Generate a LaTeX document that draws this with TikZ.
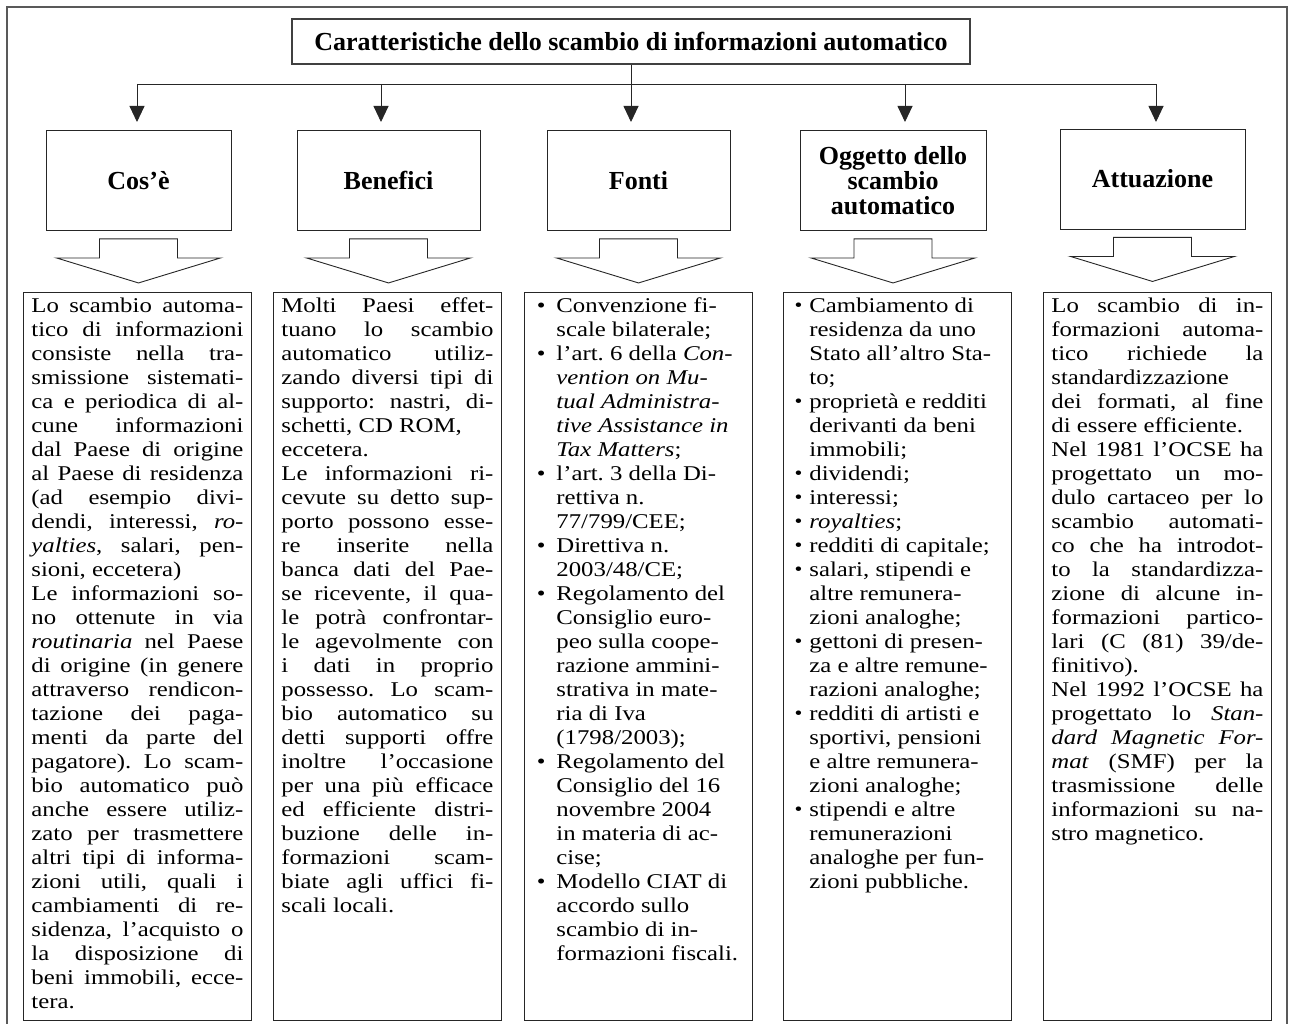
\documentclass[tikz,border=0pt]{standalone}
\usepackage{fontspec}
\setmainfont{Liberation Serif}
\newfontfamily\corpofont{Liberation Serif}[FakeStretch=1.18]
\usetikzlibrary{arrows.meta}

\newcommand{\corpo}[1]{\begin{minipage}[c][718pt][t]{212pt}\corpofont\fontsize{21}{24}\selectfont
  \frenchspacing\tolerance=10000\hbadness=10000 #1\end{minipage}}
\newenvironment{punti}[3]{\list{#3}{\leftmargin=#1\labelsep=#2\labelwidth=\dimexpr#1-#2\relax
  \itemindent=0pt\itemsep=0pt\parsep=0pt\topsep=0pt\partopsep=0pt}\raggedright}{\endlist}

\begin{document}
\begin{tikzpicture}[x=1pt,y=-1pt]
        \tikzstyle{every node}+=[inner sep=0pt]
        \tikzstyle{cornice}=[draw=black!65,line width=1.5pt]
        \tikzstyle{linea}=[draw=black!85,line width=0.9pt]
        \tikzstyle{freccia}=[linea,-{Triangle[width=15pt,length=16pt]}]
        \tikzstyle{titolo}=[draw=black!75,line width=1.1pt,minimum width=678pt,minimum height=45pt,font=\fontsize{26}{24}\selectfont\bfseries]
        \tikzstyle{testata}=[draw=black!85,line width=0.9pt,minimum width=185pt,minimum height=100pt,align=center,font=\fontsize{26}{25}\selectfont\bfseries]
        \tikzstyle{blocco}=[draw=black!85,line width=0.9pt,fill=white]
        \tikzstyle{colonna}=[draw=black!85,line width=0.9pt,anchor=north west,inner xsep=8pt,inner ysep=5pt]
        \useasboundingbox (0,0) rectangle (1289,1024);
        \draw[cornice] (7,1024) -- (7,7) -- (1287,7) -- (1287,1024);
        \node[titolo] (titolo) at (631,41.5) {Caratteristiche dello scambio di informazioni automatico};
        \node[testata] (cose) at (138.5,180.5) {Cos’è};
        \node[testata,minimum width=183pt] (benefici) at (388.5,180.5) {Benefici};
        \node[testata,minimum width=183pt] (fonti) at (638.5,180.5) {Fonti};
        \node[testata,minimum width=186pt] (oggetto) at (893,180.5) {Oggetto dello\\scambio\\automatico};
        \node[testata] (attuazione) at (1152.5,179) {Attuazione};
        \coordinate (snodo) at (631,84);
        \coordinate (p1) at (137,122);
        \coordinate (p2) at (381,122);
        \coordinate (p3) at (631,122);
        \coordinate (p4) at (905,122);
        \coordinate (p5) at (1156,122);
        \draw[linea] (titolo.south) -- (snodo);
        \draw[linea] (p1 |- snodo) -- (p5 |- snodo);
        \foreach \p in {p1,p2,p3,p4,p5}
          \draw[freccia] (\p |- snodo) -- (\p);
        \foreach \h in {cose,benefici,fonti,oggetto,attuazione}
          \draw[blocco,shift={(\h.south)}] (-39,8) -- (39,8) -- (39,27) -- (82,27) -- (0,52) -- (-82,27) -- (-39,27) -- cycle;
        \node[colonna] (tcose) at (23,292) {\corpo{Lo scambio automa-\linebreak tico di informazioni\linebreak consiste nella tra-\linebreak smissione sistemati-\linebreak ca e periodica di al-\linebreak cune informazioni\linebreak dal Paese di origine\linebreak al Paese di residenza\linebreak (ad esempio divi-\linebreak dendi, interessi, \textit{ro-}\linebreak \textit{yalties}, salari, pen-\linebreak sioni, eccetera)\par
          Le informazioni so-\linebreak no ottenute in via\linebreak \textit{routinaria} nel Paese\linebreak di origine (in genere\linebreak attraverso rendicon-\linebreak tazione dei paga-\linebreak menti da parte del\linebreak pagatore). Lo scam-\linebreak bio automatico può\linebreak anche essere utiliz-\linebreak zato per trasmettere\linebreak altri tipi di informa-\linebreak zioni utili, quali i\linebreak cambiamenti di re-\linebreak sidenza, l’acquisto o\linebreak la disposizione di\linebreak beni immobili, ecce-\linebreak tera.}};
        \node[colonna] (tbenefici) at (273,292) {\corpo{Molti Paesi effet-\linebreak tuano lo scambio\linebreak automatico utiliz-\linebreak zando diversi tipi di\linebreak supporto: nastri, di-\linebreak schetti, CD ROM,\\eccetera.\par
          Le informazioni ri-\linebreak cevute su detto sup-\linebreak porto possono esse-\linebreak re inserite nella\linebreak banca dati del Pae-\linebreak se ricevente, il qua-\linebreak le potrà confrontar-\linebreak le agevolmente con\linebreak i dati in proprio\linebreak possesso. Lo scam-\linebreak bio automatico su\linebreak detti supporti offre\linebreak inoltre l’occasione\linebreak per una più efficace\linebreak ed efficiente distri-\linebreak buzione delle in-\linebreak formazioni scam-\linebreak biate agli uffici fi-\linebreak scali locali.}};
        \node[colonna] (tfonti) at (524,292) {\corpo{\begin{punti}{24pt}{11pt}{\textbullet}
          \item Convenzione fi-\\scale bilaterale;
          \item l’art. 6 della \textit{Con-\\vention on Mu-\\tual Administra-\\tive Assistance in\\Tax Matters};
          \item l’art. 3 della Di-\\rettiva n.\\77/799/CEE;
          \item Direttiva n.\\2003/48/CE;
          \item Regolamento del\\Consiglio euro-\\peo sulla coope-\\razione ammini-\\strativa in mate-\\ria di Iva\\(1798/2003);
          \item Regolamento del\\Consiglio del 16\\novembre 2004\\in materia di ac-\\cise;
          \item Modello CIAT di\\accordo sullo\\scambio di in-\\formazioni fiscali.
        \end{punti}}};
        \node[colonna] (toggetto) at (783,292) {\corpo{\begin{punti}{18pt}{7pt}{\raisebox{0.5pt}{\fontsize{19}{19}\selectfont\textbullet}}
          \item Cambiamento di\\residenza da uno\\Stato all’altro Sta-\\to;
          \item proprietà e redditi\\derivanti da beni\\immobili;
          \item dividendi;
          \item interessi;
          \item \textit{royalties};
          \item redditi di capitale;
          \item salari, stipendi e\\altre remunera-\\zioni analoghe;
          \item gettoni di presen-\\za e altre remune-\\razioni analoghe;
          \item redditi di artisti e\\sportivi, pensioni\\e altre remunera-\\zioni analoghe;
          \item stipendi e altre\\remunerazioni\\analoghe per fun-\\zioni pubbliche.
        \end{punti}}};
        \node[colonna] (tattuazione) at (1043,292) {\corpo{Lo scambio di in-\linebreak formazioni automa-\linebreak tico richiede la\linebreak standardizzazione\linebreak dei formati, al fine\linebreak di essere efficiente.\par
          Nel 1981 l’OCSE ha\linebreak progettato un mo-\linebreak dulo cartaceo per lo\linebreak scambio automati-\linebreak co che ha introdot-\linebreak to la standardizza-\linebreak zione di alcune in-\linebreak formazioni partico-\linebreak lari (C (81) 39/de-\linebreak finitivo).\par
          Nel 1992 l’OCSE ha\linebreak progettato lo \textit{Stan-}\linebreak \textit{dard Magnetic For-}\linebreak \textit{mat} (SMF) per la\linebreak trasmissione delle\linebreak informazioni su na-\linebreak stro magnetico.}};
\end{tikzpicture}
\end{document}
